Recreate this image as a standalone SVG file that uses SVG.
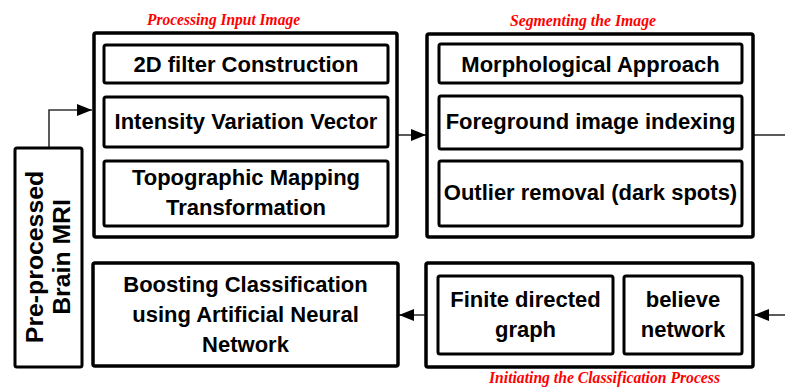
<svg xmlns="http://www.w3.org/2000/svg" width="785" height="388" viewBox="0 0 785 388">
<defs>
<marker id="ah" markerUnits="userSpaceOnUse" markerWidth="15" markerHeight="12" refX="15" refY="6" orient="auto">
<path d="M0,0 L15,6 L0,12 Z" fill="#000"/>
</marker>
<style>
.outer{fill:#fff;stroke:#000;stroke-width:3.5}
.inner{fill:#fff;stroke:#000;stroke-width:3}
.t{font-family:"Liberation Sans",Arial,sans-serif;font-weight:bold;font-size:22px;fill:#000;text-anchor:middle}
.rot{font-size:24.8px}
.lbl{font-family:"Liberation Serif","Times New Roman",serif;font-weight:bold;font-style:italic;font-size:17px;fill:#f00;text-anchor:middle}
.conn{fill:none;stroke:#333;stroke-width:1.6}
</style>
</defs>
<rect width="785" height="388" fill="#fff"/>
<g id="connectors">
<path class="conn" d="M49,148 V110 H92" marker-end="url(#ah)"/>
<path class="conn" d="M397,135 H426" marker-end="url(#ah)"/>
<path class="conn" d="M753,135 H785"/>
<path class="conn" d="M785,315 H754" marker-end="url(#ah)"/>
<path class="conn" d="M426,315 H399" marker-end="url(#ah)"/>
</g>
<g id="preprocessed">
<rect class="inner" x="15" y="148" width="67" height="219" rx="2"/>
<text class="t rot" transform="translate(43,257) rotate(-90)">Pre-processed</text>
<text class="t rot" transform="translate(70,257) rotate(-90)">Brain MRI</text>
</g>
<g id="processing">
<text class="lbl" x="223.5" y="25" textLength="153" lengthAdjust="spacingAndGlyphs">Processing Input Image</text>
<rect class="outer" x="94" y="33" width="303" height="204" rx="2"/>
<g id="filter2d">
<rect class="inner" x="104" y="45" width="284" height="38" rx="2"/>
<text class="t" x="246" y="72">2D filter Construction</text>
</g>
<g id="intensity">
<rect class="inner" x="104" y="97" width="284" height="50" rx="2"/>
<text class="t" x="246" y="129">Intensity Variation Vector</text>
</g>
<g id="topographic">
<rect class="inner" x="104" y="161" width="284" height="65" rx="2"/>
<text class="t" x="246" y="185">Topographic Mapping</text>
<text class="t" x="246" y="215">Transformation</text>
</g>
</g>
<g id="segmenting">
<text class="lbl" x="583" y="26" textLength="146" lengthAdjust="spacingAndGlyphs">Segmenting the Image</text>
<rect class="outer" x="427" y="34" width="326" height="203" rx="2"/>
<g id="morphological">
<rect class="inner" x="439" y="44" width="303" height="39" rx="2"/>
<text class="t" x="590.5" y="72">Morphological Approach</text>
</g>
<g id="foreground">
<rect class="inner" x="439" y="96" width="303" height="53" rx="2"/>
<text class="t" x="590.5" y="129">Foreground image indexing</text>
</g>
<g id="outlier">
<rect class="inner" x="439" y="161" width="303" height="65" rx="2"/>
<text class="t" x="590.5" y="200">Outlier removal (dark spots)</text>
</g>
</g>
<g id="boosting">
<rect class="outer" x="93" y="263" width="305" height="103" rx="2"/>
<text class="t" x="245.5" y="292">Boosting Classification</text>
<text class="t" x="245.5" y="322">using Artificial Neural</text>
<text class="t" x="245.5" y="352">Network</text>
</g>
<g id="initiating">
<rect class="outer" x="426" y="263" width="327" height="104" rx="2"/>
<g id="finite">
<rect class="inner" x="438" y="276" width="175" height="78" rx="2"/>
<text class="t" x="525.5" y="307">Finite directed</text>
<text class="t" x="525.5" y="337">graph</text>
</g>
<g id="believe">
<rect class="inner" x="624" y="276" width="118" height="78" rx="2"/>
<text class="t" x="683" y="307">believe</text>
<text class="t" x="683" y="337">network</text>
</g>
<text class="lbl" x="604.5" y="383" textLength="231" lengthAdjust="spacingAndGlyphs">Initiating the Classification Process</text>
</g>
</svg>
